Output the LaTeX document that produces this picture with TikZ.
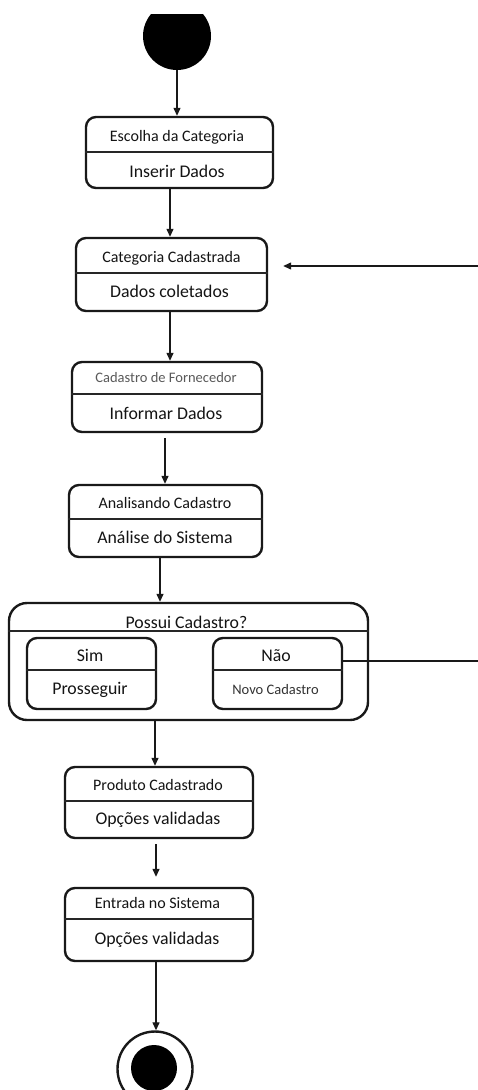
\documentclass[tikz,border=0pt]{standalone}
\usepackage{fontspec}
\setmainfont{Carlito}
\usetikzlibrary{arrows.meta}
\begin{document}
\begin{tikzpicture}[x=1pt,y=-1pt,
  statebox/.style={draw=black!90,line width=2.4pt,rounded corners=10pt,inner sep=0pt},
  bigbox/.style={draw=black!90,line width=2.4pt,rounded corners=18pt,inner sep=0pt},
  divider/.style={line width=1.2pt,draw=black!85},
  toplbl/.style={anchor=base,inner sep=0pt,font=\fontsize{16}{18}\selectfont,text=black!92},
  botlbl/.style={anchor=base,inner sep=0pt,font=\fontsize{17.8}{20}\selectfont,text=black!92},
  smalllbl/.style={anchor=base,inner sep=0pt,font=\fontsize{14.5}{16}\selectfont,text=black!65},
  arr/.style={line width=1.3pt,draw=black!90,-{Triangle[length=8pt,width=7pt]}},
  plain/.style={line width=1.3pt,draw=black!90}]
\useasboundingbox (0,0) rectangle (478,1090);
\fill[white] (0,0) rectangle (478,1090);

% start
\begin{scope}
\clip (0,14) rectangle (478,1090);
\node[circle,fill=black,minimum size=68pt,inner sep=0pt] (start) at (177,36) {};
\end{scope}

% box 1
\node[statebox,minimum width=187pt,minimum height=71pt] (b1) at (179.5,152.5) {};
\draw[divider] (b1.west |- 0,152) -- (b1.east |- 0,152);
\node[toplbl] (b1t) at (177,141.5) {Escolha da Categoria};
\node[botlbl] (b1b) at (177,177) {Inserir Dados};

% box 2
\node[statebox,minimum width=191pt,minimum height=73pt] (b2) at (171.5,274.5) {};
\draw[divider] (b2.west |- 0,273) -- (b2.east |- 0,273);
\node[toplbl] (b2t) at (171.5,262.5) {Categoria Cadastrada};
\node[botlbl] (b2b) at (169.5,297) {Dados coletados};

% box 3
\node[statebox,minimum width=190pt,minimum height=70pt] (b3) at (167,397) {};
\draw[divider] (b3.west |- 0,394) -- (b3.east |- 0,394);
\node[smalllbl] (b3t) at (166,382) {Cadastro de Fornecedor};
\node[botlbl] (b3b) at (166,419) {Informar Dados};

% box 4
\node[statebox,minimum width=193pt,minimum height=72pt] (b4) at (165.5,521) {};
\draw[divider] (b4.west |- 0,519) -- (b4.east |- 0,519);
\node[toplbl] (b4t) at (165,508.5) {Analisando Cadastro};
\node[botlbl] (b4b) at (165,543) {Análise do Sistema};

% big box
\node[bigbox,minimum width=359pt,minimum height=117pt] (big) at (188.5,661.5) {};
\draw[divider] (big.west |- 0,631) -- (big.east |- 0,631);
\node[botlbl] (bigt) at (186.5,628) {Possui Cadastro?};

% sim
\node[statebox,minimum width=129pt,minimum height=71pt] (sim) at (91.5,673.5) {};
\draw[divider] (sim.west |- 0,670) -- (sim.east |- 0,670);
\node[botlbl] (simt) at (90,661) {Sim};
\node[botlbl] (simb) at (90,694) {Prosseguir};

% nao
\node[statebox,minimum width=129pt,minimum height=71pt] (nao) at (277.5,673.5) {};
\draw[divider] (nao.west |- 0,670) -- (nao.east |- 0,670);
\node[botlbl] (naot) at (276,661) {Não};
\node[smalllbl,text=black!80] (naob) at (275.5,694) {Novo Cadastro};

% produto
\node[statebox,minimum width=188pt,minimum height=71pt] (b5) at (159,802.5) {};
\draw[divider] (b5.west |- 0,801) -- (b5.east |- 0,801);
\node[toplbl] (b5t) at (158,790.5) {Produto Cadastrado};
\node[botlbl] (b5b) at (158,824) {Opções validadas};

% entrada
\node[statebox,minimum width=188pt,minimum height=73pt] (b6) at (159,924.5) {};
\draw[divider] (b6.west |- 0,919) -- (b6.east |- 0,919);
\node[toplbl] (b6t) at (157.5,908.5) {Entrada no Sistema};
\node[botlbl] (b6b) at (157,944) {Opções validadas};

% end
\node[circle,draw=black!90,line width=2.4pt,minimum size=75pt,inner sep=0pt] (endo) at (155,1069) {};
\node[circle,fill=black,minimum size=46pt,inner sep=0pt] (endi) at (154,1068) {};

% side coordinates
\coordinate (inR) at (478,266);
\coordinate (outR) at (478,661);

% connectors
\draw[arr] (start.south) -- (b1.north -| start.south);
\draw[arr] ([xshift=-9.5pt]b1.south) -- ([xshift=-1.5pt]b2.north);
\draw[arr] ([xshift=-1.5pt]b2.south) -- ([xshift=3pt]b3.north);
\draw[arr,shorten <=5pt] ([xshift=-2pt]b3.south) -- ([xshift=-0.5pt]b4.north);
\draw[arr] ([xshift=-5.5pt]b4.south) -- (big.north -| 160,0);
\draw[arr] (big.south -| 155,0) -- ([xshift=-4pt]b5.north);
\draw[arr,shorten <=5pt,shorten >=10pt] ([xshift=-3pt]b5.south) -- ([xshift=-3pt]b6.north);
\draw[arr] ([xshift=-3pt]b6.south) -- ([xshift=1pt]endo.north);
\draw[arr,shorten >=15pt] (inR) -- (b2.east |- inR);
\draw[plain] (nao.east |- outR) -- (outR);
\end{tikzpicture}
\end{document}
